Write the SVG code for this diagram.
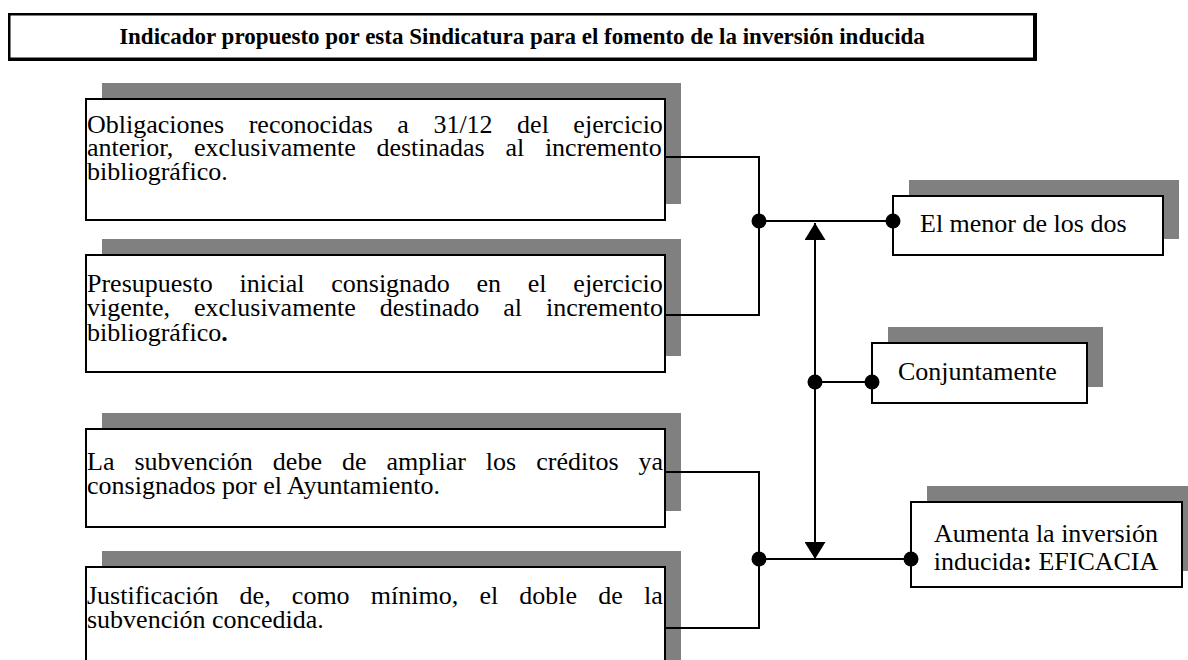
<svg xmlns="http://www.w3.org/2000/svg" width="1188" height="660" viewBox="0 0 1188 660">
  <style>
    text { font-family: "Liberation Serif", "Times New Roman", serif; fill: #000; }
    .body { font-size: 26px; }
    .title { font-size: 23px; font-weight: bold; }
    .box { fill: #fff; stroke: #000; stroke-width: 2; }
    .shadow { fill: #808080; stroke: none; }
    .wire { fill: none; stroke: #000; stroke-width: 2; }
    .dot { fill: #000; }
  </style>
  <defs>
    <marker id="arrow" viewBox="0 0 17 21" refX="17" refY="10.5" markerWidth="17" markerHeight="21" markerUnits="userSpaceOnUse" orient="auto-start-reverse">
      <path d="M0,0 L17,10.5 L0,21 Z" fill="#000"/>
    </marker>
  </defs>
  <rect width="1188" height="660" fill="#fff"/>

  <g id="title">
    <rect x="8" y="13" width="1029" height="48" fill="#000"/>
    <rect x="10.5" y="15.5" width="1022.5" height="42" fill="#fff"/>
    <text class="title" x="522" y="44" text-anchor="middle">Indicador propuesto por esta Sindicatura para el fomento de la inversión inducida</text>
  </g>

  <g id="node-obligaciones">
    <rect class="shadow" x="102" y="83" width="579" height="121"/>
    <rect class="box" x="86" y="99" width="579" height="121"/>
    <text class="body" x="87" y="133" word-spacing="18">Obligaciones reconocidas a 31/12 del ejercicio</text>
    <text class="body" x="87" y="156" word-spacing="14.2">anterior, exclusivamente destinadas al incremento</text>
    <text class="body" x="87" y="180">bibliográfico.</text>
  </g>

  <g id="node-presupuesto">
    <rect class="shadow" x="102" y="239" width="579" height="117"/>
    <rect class="box" x="86" y="255" width="579" height="117"/>
    <text class="body" x="87" y="292" word-spacing="20.3">Presupuesto inicial consignado en el ejercicio</text>
    <text class="body" x="87" y="316" word-spacing="17.45">vigente, exclusivamente destinado al incremento</text>
    <text class="body" x="87" y="341">bibliográfico<tspan font-weight="bold">.</tspan></text>
  </g>

  <g id="node-subvencion">
    <rect class="shadow" x="102" y="413" width="579" height="98"/>
    <rect class="box" x="86" y="429" width="579" height="98"/>
    <text class="body" x="87" y="470" word-spacing="13.5">La subvención debe de ampliar los créditos ya</text>
    <text class="body" x="87" y="494">consignados por el Ayuntamiento.</text>
  </g>

  <g id="node-justificacion">
    <rect class="shadow" x="102" y="551" width="579" height="140"/>
    <rect class="box" x="86" y="567" width="579" height="140"/>
    <text class="body" x="87" y="604" word-spacing="14.7">Justificación de, como mínimo, el doble de la</text>
    <text class="body" x="87" y="628">subvención concedida.</text>
  </g>

  <g id="node-menor">
    <rect class="shadow" x="909" y="180" width="270" height="59"/>
    <rect class="box" x="893" y="196" width="270" height="59"/>
    <text class="body" x="920" y="232">El menor de los dos</text>
  </g>

  <g id="node-conjuntamente">
    <rect class="shadow" x="888" y="327" width="215" height="60"/>
    <rect class="box" x="872" y="343" width="215" height="60"/>
    <text class="body" x="898" y="380">Conjuntamente</text>
  </g>

  <g id="node-eficacia">
    <rect class="shadow" x="927" y="486" width="271" height="85"/>
    <rect class="box" x="911" y="502" width="271" height="85"/>
    <text class="body" x="1046" y="542" text-anchor="middle">Aumenta la inversión</text>
    <text class="body" x="1046" y="570" text-anchor="middle">inducida<tspan font-weight="bold">:</tspan> EFICACIA</text>
  </g>

  <g id="connectors">
    <polyline class="wire" points="665,157 759,157 759,315 665,315"/>
    <line class="wire" x1="759" y1="221" x2="893" y2="221"/>
    <polyline class="wire" points="665,472 759,472 759,628 665,628"/>
    <line class="wire" x1="759" y1="559" x2="911" y2="559"/>
    <line class="wire" x1="815" y1="382" x2="872" y2="382"/>
    <line class="wire" x1="815" y1="223" x2="815" y2="559" marker-start="url(#arrow)" marker-end="url(#arrow)"/>
    <circle class="dot" cx="759" cy="221" r="7.5"/>
    <circle class="dot" cx="893" cy="221" r="7.5"/>
    <circle class="dot" cx="815" cy="382" r="7.5"/>
    <circle class="dot" cx="872" cy="382" r="7.5"/>
    <circle class="dot" cx="759" cy="559" r="7.5"/>
    <circle class="dot" cx="911" cy="559" r="7.5"/>
  </g>
</svg>
